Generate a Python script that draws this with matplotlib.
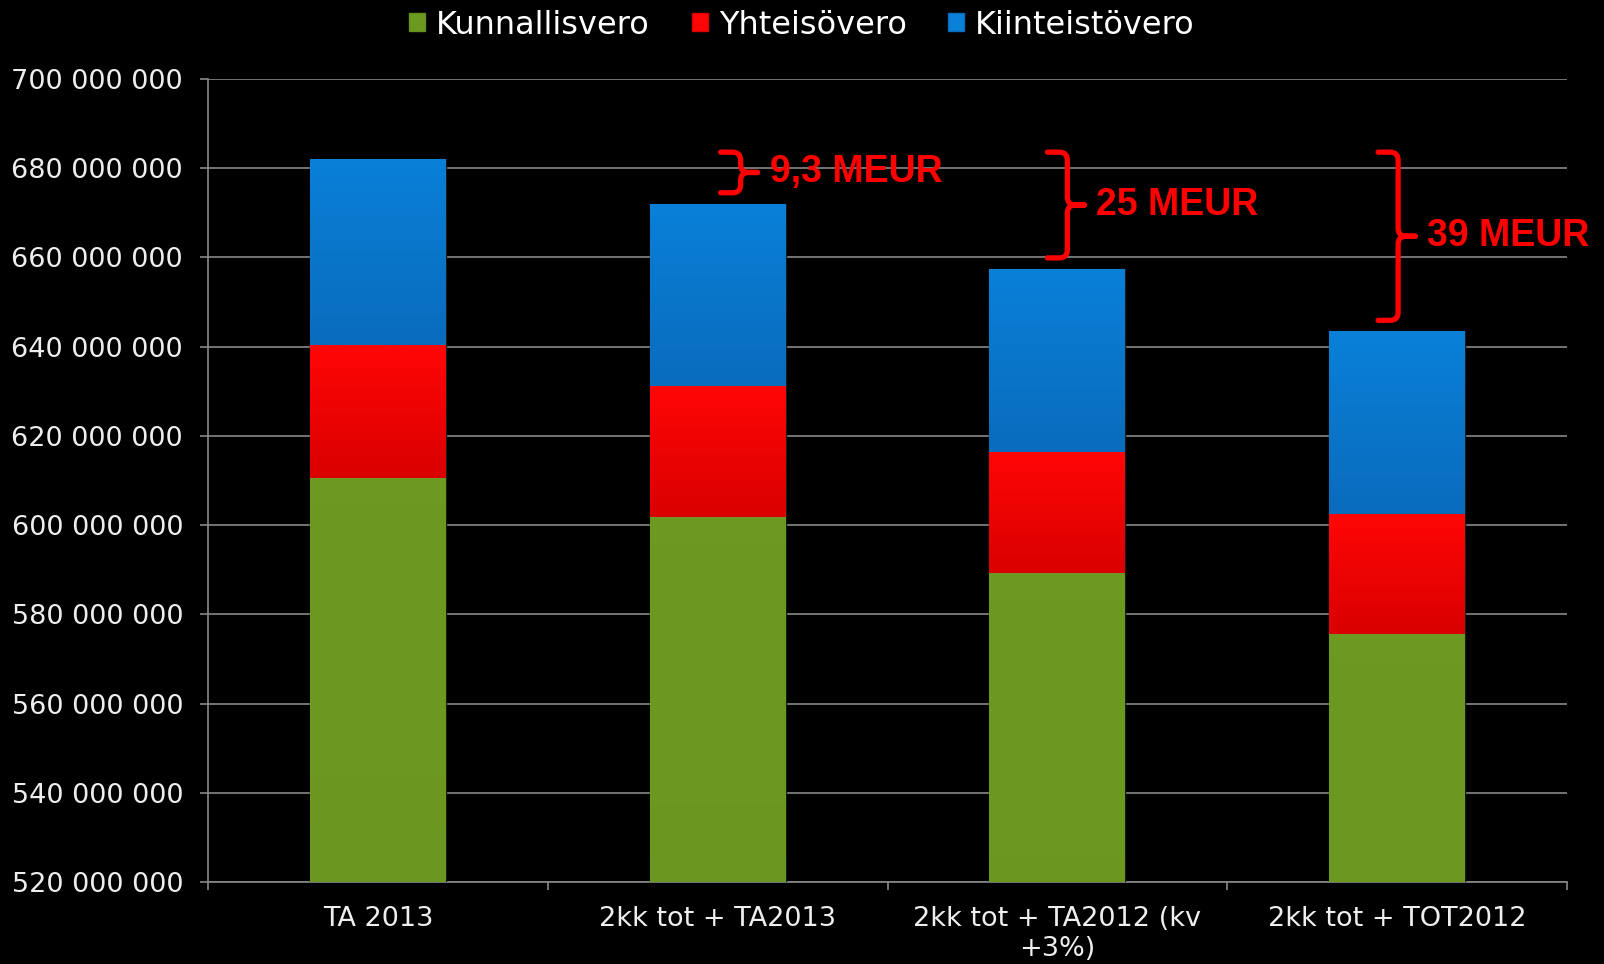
import numpy as np
import matplotlib.pyplot as plt
from matplotlib.path import Path
from matplotlib.patches import PathPatch, Patch
from matplotlib.colors import LinearSegmentedColormap
from matplotlib.ticker import FuncFormatter

# arvot miljoonina euroina
kategoriat = ["TA 2013", "2kk tot + TA2013", "2kk tot + TA2012 (kv\n+3%)", "2kk tot + TOT2012"]
kunnallisvero = [610.6, 601.9, 589.2, 575.5]
yhteisovero = [29.8, 29.3, 27.3, 27.0]
kiinteistovero = [41.7, 40.8, 40.9, 40.9]
erotus_tekstit = ["9,3 MEUR", "25 MEUR", "39 MEUR"]

sarjat = [
    ("Kunnallisvero", kunnallisvero, "#6c9920", "#648f1c"),
    ("Yhteisövero", yhteisovero, "#ff0606", "#da0000"),
    ("Kiinteistövero", kiinteistovero, "#0a80d8", "#096cbd"),
]

fig = plt.figure(figsize=(16.04, 9.64), dpi=100, facecolor="black")
ax = fig.add_axes([208 / 1604, 1 - 882 / 964, (1567 - 208) / 1604, (882 - 79) / 964])
ax.set_facecolor("black")
ymin, ymax = 520, 700

x = np.arange(len(kategoriat))
pohja = np.zeros(len(kategoriat))
kahvat = []
for nimi, arvot, ylä, ala in sarjat:
    palkit = ax.bar(x, arvot, bottom=pohja, width=0.40, color=ylä,
                    edgecolor="#1a1a1a", linewidth=1.0, zorder=3)
    cmap = LinearSegmentedColormap.from_list(nimi, [ala, ylä])
    grad = np.linspace(0, 1, 100).reshape(-1, 1)
    for p in palkit:
        x0, y0 = p.get_x(), p.get_y()
        y1 = y0 + p.get_height()
        ya = max(y0, ymin)
        if y1 <= ya:
            continue
        g = grad[int(100 * (ya - y0) / (y1 - y0)):]
        im = ax.imshow(g, cmap=cmap, vmin=0, vmax=1, origin="lower", aspect="auto",
                       extent=(x0, x0 + p.get_width(), ya, y1), zorder=3.5)
        im.set_clip_path(p)
    pohja = pohja + np.array(arvot)
    kahvat.append(Patch(facecolor=ylä, edgecolor=ala, label=nimi))

summat = pohja
ax.set_xlim(-0.5, len(kategoriat) - 0.5)
ax.set_ylim(ymin, ymax)
ax.set_yticks(np.arange(ymin, ymax + 1, 20))
ax.yaxis.set_major_formatter(FuncFormatter(lambda v, _: "{:,.0f}".format(v * 1e6).replace(",", " ")))
ax.grid(axis="y", color="#888888", linewidth=1.2, zorder=0)

ax.set_xticks(np.arange(-0.5, len(kategoriat)), minor=False)
ax.set_xticklabels([])
ax.set_xticks(x, minor=True)
ax.set_xticklabels(kategoriat, minor=True)
ax.tick_params(axis="x", which="major", length=6, color="#888888", width=1.2)
ax.tick_params(axis="x", which="minor", length=0, pad=17, labelsize=19.5, labelcolor="#eeeeee")
ax.tick_params(axis="y", length=6, color="#888888", width=1.2, pad=12,
               labelsize=19.5, labelcolor="#eeeeee")
for s in ["top", "right"]:
    ax.spines[s].set_visible(False)
for s in ["left", "bottom"]:
    ax.spines[s].set_color("#888888")
    ax.spines[s].set_linewidth(1.2)

# aaltosulkeet
px_x = 1.0 / 340.0
px_y = 20.0 / 89.2
siirrot = [3, -10, -19]
for i, teksti in enumerate(erotus_tekstit):
    j = i + 1
    xa = j + siirrot[i] * px_x
    yt = summat[0] + 1.5
    yb = summat[j] + 2.5
    ym = (yt + yb) / 2
    xv = xa + 20 * px_x
    xt = xa + 37 * px_x
    rx, ry = 8 * px_x, 8 * px_y
    verts = [(xa, yt), (xv - rx, yt), (xv, yt), (xv, yt - ry), (xv, ym + ry),
             (xv, ym), (xv + rx, ym), (xt, ym),
             (xa, yb), (xv - rx, yb), (xv, yb), (xv, yb + ry), (xv, ym - ry),
             (xv, ym), (xv + rx, ym), (xt, ym)]
    codes = [Path.MOVETO, Path.LINETO, Path.CURVE3, Path.CURVE3, Path.LINETO,
             Path.CURVE3, Path.CURVE3, Path.LINETO] * 2
    ax.add_patch(PathPatch(Path(verts, codes), facecolor="none", edgecolor="#ff0000",
                           linewidth=3.8, capstyle="round", joinstyle="round",
                           zorder=5, clip_on=False))
    ax.text(xt + 12 * px_x, ym, teksti, color="#ff0000", fontsize=27,
            fontweight="bold", family="Liberation Sans", va="center", ha="left",
            zorder=6)

fig.legend(handles=kahvat, loc="center", bbox_to_anchor=(0.5, 0.974), ncol=3,
           frameon=False, fontsize=23, labelcolor="white", handlelength=0.5,
           handleheight=0.5, handletextpad=0.35, columnspacing=1.3)

fig.savefig("out.png", dpi=100, facecolor="black")
